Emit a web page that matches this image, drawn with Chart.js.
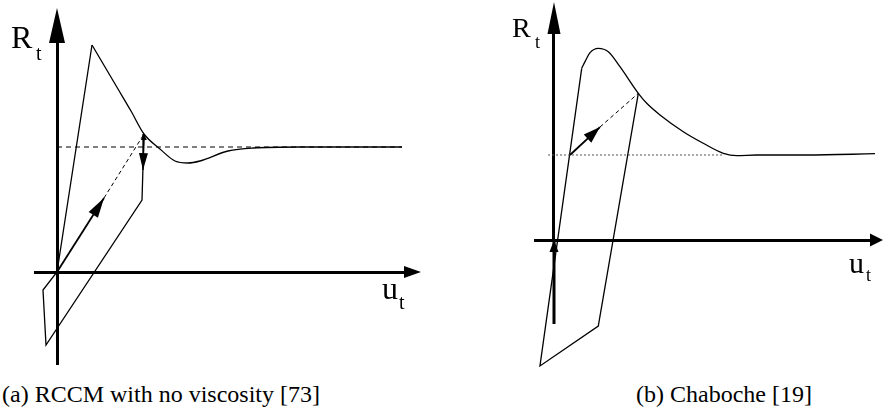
<!DOCTYPE html>
<html>
<head>
<meta charset="utf-8">
<script src="https://cdn.jsdelivr.net/npm/chart.js@4.4.1/dist/chart.umd.min.js"></script>
<style>
  html, body { margin: 0; padding: 0; background: #fff; }
  #fig { position: relative; width: 884px; height: 414px; overflow: hidden; font-family: "Liberation Serif", "Times New Roman", "DejaVu Serif", serif; color: #000; }
  canvas { position: absolute; top: 0; }
  .g { position: absolute; line-height: 1; white-space: nowrap; font-family: "Liberation Serif", "Times New Roman", "DejaVu Serif", serif; }
  .cap { position: absolute; font-size: 24px; line-height: 1; white-space: nowrap; font-family: "Liberation Serif", "Times New Roman", "DejaVu Serif", serif; }
</style>
</head>
<body>
<div id="fig">
  <canvas id="chartA" width="460" height="375" style="left:0"></canvas>
  <canvas id="chartB" width="424" height="375" style="left:460px"></canvas>

  <span class="g" style="left:11px;top:21px;font-size:32px">R</span>
  <span class="g" style="left:36px;top:43px;font-size:20px">t</span>
  <span class="g" style="left:382px;top:272px;font-size:32px">u</span>
  <span class="g" style="left:399px;top:292px;font-size:20px">t</span>

  <span class="g" style="left:512px;top:14px;font-size:28px">R</span>
  <span class="g" style="left:535px;top:33px;font-size:18px">t</span>
  <span class="g" style="left:849px;top:248px;font-size:30px">u</span>
  <span class="g" style="left:866px;top:266px;font-size:18px">t</span>

  <div class="cap" style="left:2px;top:382px">(a) RCCM with no viscosity [73]</div>
  <div class="cap" style="left:636px;top:382px">(b) Chaboche [19]</div>
</div>
<script>
// u in arbitrary units, R normalised so the residual (softened) strength is 1

// (a) RCCM with no viscosity
const aLoopU = [0.696, 0.68, -0.088, -0.112, 0, 0.28];
const aLoopR = [1.104, 0.576, -0.584, -0.144, 0, 1.816];
const aEnvU = [0.28, 0.384, 0.488, 0.592, 0.696, 0.824, 0.944, 1.048, 1.144, 1.368, 1.568, 1.944, 2.76];
const aEnvR = [1.816, 1.64, 1.464, 1.288, 1.104, 0.984, 0.888, 0.872, 0.888, 0.968, 0.992, 1.0, 1.0];
const aResU = [0, 2.76];
const aResR = [1, 1];
const aReloadU = [0, 0.376];
const aReloadR = [0, 0.592];
const aReloadDashU = [0.376, 0.696];
const aReloadDashR = [0.592, 1.104];
const aDropU = [0.696, 0.688];
const aDropR = [1.104, 0.816];

// (b) Chaboche
const bLoopU = [0.992, 0.521, -0.165, 0.326];
const bLoopR = [1.726, -1.012, -1.482, 2.02];
const bEnvU = [0.326, 0.365, 0.424, 0.521, 0.639, 0.776, 0.992, 1.091, 1.247, 1.521, 1.756, 1.992, 2.149, 2.385, 2.973, 3.776];
const bEnvR = [2.02, 2.098, 2.204, 2.255, 2.215, 2.039, 1.726, 1.608, 1.471, 1.274, 1.138, 1.02, 0.992, 1.0, 1.0, 1.015];
const bResU = [-0.07, 1.99];
const bResR = [1, 1];
const bReloadU = [0.188, 0.541];
const bReloadR = [1.0, 1.329];
const bReloadDashU = [0.541, 0.992];
const bReloadDashR = [1.329, 1.726];
const bLoadU = [0, 0];
const bLoadR = [-0.988, 0];

function pts(us, rs) {
  return us.map((u, i) => ({ x: u, y: rs[i] }));
}

function line(us, rs, extra) {
  return Object.assign({
    data: pts(us, rs),
    showLine: true,
    borderColor: '#000',
    borderWidth: 1.3,
    pointRadius: 0,
    tension: 0,
    fill: false,
    clip: false
  }, extra || {});
}

function drawHead(ctx, tip, from, len, half) {
  const dx = tip.x - from.x, dy = tip.y - from.y;
  const d = Math.hypot(dx, dy) || 1;
  const ux = dx / d, uy = dy / d;
  const bx = tip.x - ux * len, by = tip.y - uy * len;
  ctx.beginPath();
  ctx.moveTo(tip.x, tip.y);
  ctx.lineTo(bx - uy * half, by + ux * half);
  ctx.lineTo(bx + uy * half, by - ux * half);
  ctx.closePath();
  ctx.fill();
}

// arrow heads on the ends of datasets and on the ends of the two axes
const arrowHeads = {
  id: 'arrowHeads',
  afterDraw(chart, args, opts) {
    const { ctx, chartArea, scales } = chart;
    ctx.save();
    ctx.fillStyle = '#000';
    chart.data.datasets.forEach((ds, i) => {
      const p = chart.getDatasetMeta(i).data;
      if (ds.headEnd) drawHead(ctx, p[p.length - 1], p[p.length - 2], ds.headEnd[0], ds.headEnd[1]);
      if (ds.headStart) drawHead(ctx, p[0], p[1], ds.headStart[0], ds.headStart[1]);
    });
    const x0 = scales.x.getPixelForValue(0);
    const y0 = scales.y.getPixelForValue(0);
    if (opts.x) drawHead(ctx, { x: chartArea.right + opts.x[0], y: y0 }, { x: chartArea.right, y: y0 }, opts.x[0], opts.x[1]);
    if (opts.y) drawHead(ctx, { x: x0, y: chartArea.top - opts.y[0] }, { x: x0, y: chartArea.top }, opts.y[0], opts.y[1]);
    ctx.restore();
  }
};

function axis(min, max, pos) {
  return {
    type: 'linear', min: min, max: max, position: pos,
    grid: { display: false, lineWidth: 0 },
    ticks: { display: false },
    border: { display: true, color: '#000', width: 3 }
  };
}

function makeChart(id, datasets, xr, yr, padding, heads) {
  return new Chart(document.getElementById(id), {
    type: 'scatter',
    data: { datasets: datasets },
    options: {
      responsive: false,
      animation: false,
      events: [],
      layout: { padding: padding },
      scales: {
        x: axis(xr[0], xr[1], { y: 0 }),
        y: axis(yr[0], yr[1], { x: 0 })
      },
      plugins: { legend: { display: false }, tooltip: { enabled: false }, arrowHeads: heads }
    },
    plugins: [arrowHeads]
  });
}

makeChart('chartA', [
  line(aResU, aResR, { borderDash: [5, 4], borderWidth: 1 }),
  line(aLoopU, aLoopR),
  line(aEnvU, aEnvR, { cubicInterpolationMode: 'monotone' }),
  line(aReloadU, aReloadR, { borderWidth: 1.8, headEnd: [20, 5.5] }),
  line(aReloadDashU, aReloadDashR, { borderDash: [4, 3], borderWidth: 1 }),
  line(aDropU, aDropR, { borderWidth: 1.3, headEnd: [17, 4.5], headStart: [6, 3] })
], [-0.176, 2.776], [-0.744, 1.832], { left: 35, right: 56, top: 43, bottom: 10 }, { x: [17, 6], y: [35, 8] });

makeChart('chartB', [
  line(bResU, bResR, { borderDash: [2, 2], borderWidth: 1, borderColor: '#555' }),
  line(bLoopU, bLoopR),
  line(bEnvU, bEnvR, { cubicInterpolationMode: 'monotone' }),
  line(bReloadU, bReloadR, { borderWidth: 1.8, headEnd: [17, 5.5] }),
  line(bReloadDashU, bReloadDashR, { borderDash: [4, 3], borderWidth: 1 }),
  line(bLoadU, bLoadR, { borderWidth: 3, headEnd: [12, 4.5] })
], [-0.2235, 3.7176], [0, 2.4235], { left: 75, right: 14, top: 34, bottom: 135 }, { x: [13, 6.5], y: [32, 6.5] });
</script>
</body>
</html>
